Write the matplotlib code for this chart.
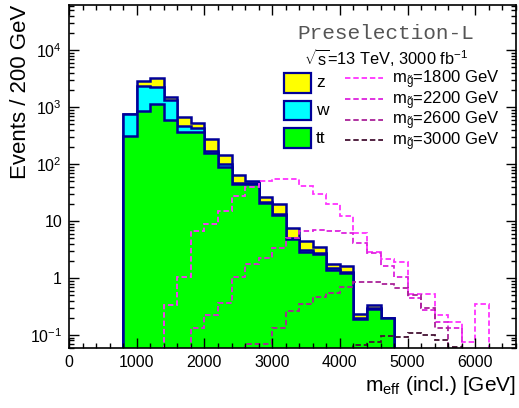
import numpy as np
import matplotlib
matplotlib.use("Agg")
import matplotlib.pyplot as plt
from matplotlib.patches import Rectangle
from matplotlib.lines import Line2D
from matplotlib.ticker import MultipleLocator, LogLocator, FuncFormatter, NullFormatter

plt.rcParams['font.family'] = ['Liberation Sans', 'DejaVu Sans']
plt.rcParams['mathtext.fontset'] = 'custom'
plt.rcParams['mathtext.rm'] = 'Liberation Sans'
plt.rcParams['mathtext.it'] = 'Liberation Sans:italic'
plt.rcParams['mathtext.sf'] = 'Liberation Sans'
plt.rcParams['mathtext.default'] = 'regular'

# fundos empilhados, bins de 200 GeV entre 800 e 4800 GeV
bkg_edges = np.arange(800, 4801, 200)
tt = [314, 861, 1115, 591, 369, 369, 154, 90, 44.6, 44.6, 20.4, 12.7,
      4.8, 2.9, 2.64, 1.4, 1.22, 0.19, 0.28, 0.196]
w = [440, 1479, 1125, 736, 101, 54, 15, 11, 2.0, 1.5, 1.0, 0.7,
     0.3, 0.2, 0.15, 0.1, 0.08, 0.01, 0.02, 0.0]
z = [8, 550, 1030, 170, 190, 108, 106, 43, 17, 5, 5.3, 6.2,
     2.5, 1.4, 0.65, 0.25, 0.3, 0.03, 0.036, 0.0]

bkg_names = ["z", "w", "tt"]
bkg_colors = ["#ffff00", "#00ffff", "#00ff00"]

# sinais, bins de 200 GeV entre 1400 e 6400 GeV
sig_edges = np.arange(1400, 6401, 200)
sig_1800 = [0.336, 1.03, 6.7, 9.0, 14.8, 27.5, 39, 51, 54, 54, 41.6, 29.4,
            19.6, 12.5, 6.1, 2.9, 2.2, 1.88, 0.52, 0.52, 0.22, 0.17, 0.076, 0.35, 0]
sig_2200 = [0, 0, 0.134, 0.224, 0.37, 1.04, 1.76, 2.27, 3.4, 5.1, 6.7, 6.9,
            6.6, 6.2, 4.2, 2.8, 1.6, 1.05, 0.44, 0.27, 0.17, 0.13, 0, 0, 0]
sig_2600 = [0, 0, 0, 0, 0, 0, 0.069, 0.069, 0.13, 0.26, 0.35, 0.47,
            0.54, 0.70, 0.84, 0.86, 0.78, 0.66, 0.5, 0.3, 0.13, 0, 0, 0, 0]
sig_3000 = [0, 0, 0, 0, 0, 0, 0, 0, 0, 0, 0, 0,
            0, 0, 0.067, 0.076, 0.097, 0.094, 0.11, 0.10, 0.082, 0.062, 0, 0, 0]

sig_vals = [sig_1800, sig_2200, sig_2600, sig_3000]
sig_masses = [1800, 2200, 2600, 3000]
sig_colors = ["#ff33ff", "#dd22dd", "#aa2299", "#441133"]

navy = "#000099"
floor = 1e-3

fig = plt.figure(figsize=(5.19, 4.08), dpi=100)
ax = fig.add_axes([0.1329, 0.147, 0.8613, 0.8407])
ax.set_yscale("log")

# pilha: soma total por cima, depois w+tt, depois tt
stack = np.cumsum([tt, w, z], axis=0)[::-1]
for level, col in zip(stack, bkg_colors):
    ax.stairs(level, bkg_edges, baseline=floor, fill=True, color=col, lw=0)
    ax.stairs(level, bkg_edges, baseline=floor, color=navy, lw=1.8)

for vals, col in zip(sig_vals, sig_colors):
    ax.stairs(np.maximum(vals, floor), sig_edges, baseline=floor,
              color=col, lw=1.3, ls=(0, (3, 1.6)))

ax.set_xlim(0, 6600)
ax.set_ylim(0.059, 6.2e4)

ax.xaxis.set_major_locator(MultipleLocator(1000))
ax.xaxis.set_minor_locator(MultipleLocator(200))
ax.yaxis.set_major_locator(LogLocator(base=10, numticks=20))
ax.yaxis.set_minor_locator(LogLocator(base=10, subs=np.arange(2, 10), numticks=20))
ax.yaxis.set_minor_formatter(NullFormatter())


def ylab(v, pos):
    e = int(round(np.log10(v)))
    if e == 0:
        return "1"
    if e == 1:
        return "10"
    return r"$10^{%d}$" % e


ax.yaxis.set_major_formatter(FuncFormatter(ylab))
ax.tick_params(which="both", direction="in", top=True, right=True, width=1.0)
ax.tick_params(which="major", length=7.5, labelsize=11.5, pad=5)
ax.tick_params(which="minor", length=3.8)
for sp in ax.spines.values():
    sp.set_linewidth(1.2)

ax.set_xlabel(r"m$_{\rm eff}$ (incl.) [GeV]", fontsize=15, loc="right")
ax.set_ylabel("Events / 200 GeV", fontsize=16, loc="top")
ax.xaxis.set_label_coords(1.0, -0.075)
ax.yaxis.set_label_coords(-0.085, 1.0)

# textos
ax.text(0.709, 0.917, "Preselection-L", transform=ax.transAxes, ha="center",
        va="center", fontsize=15.2, family="Liberation Mono", color="#555555")
ax.text(0.709, 0.845, r"$\sqrt{s}$=13 TeV, 3000 fb$^{-1}$", transform=ax.transAxes,
        ha="center", va="center", fontsize=11.8)

# legenda dos fundos
for i, (name, col) in enumerate(zip(bkg_names, bkg_colors)):
    yc = 0.773 - i * 0.0805
    ax.add_patch(Rectangle((0.481, yc - 0.029), 0.060, 0.058, transform=ax.transAxes,
                           facecolor=col, edgecolor=navy, lw=1.6, zorder=5))
    ax.text(0.553, yc, name, transform=ax.transAxes, ha="left", va="center",
            fontsize=12.5, zorder=5)

# legenda dos sinais
for i, (m, col) in enumerate(zip(sig_masses, sig_colors)):
    yc = 0.786 - i * 0.060
    ax.add_line(Line2D([0.617, 0.702], [yc, yc], transform=ax.transAxes,
                       color=col, lw=1.3, ls=(0, (3, 1.6)), zorder=5))
    ax.text(0.723, yc - 0.0146, r"m$_{\tilde{g}}$=%d GeV" % m, transform=ax.transAxes,
            ha="left", va="baseline", fontsize=12, zorder=5)

fig.savefig("out.png", dpi=100)
